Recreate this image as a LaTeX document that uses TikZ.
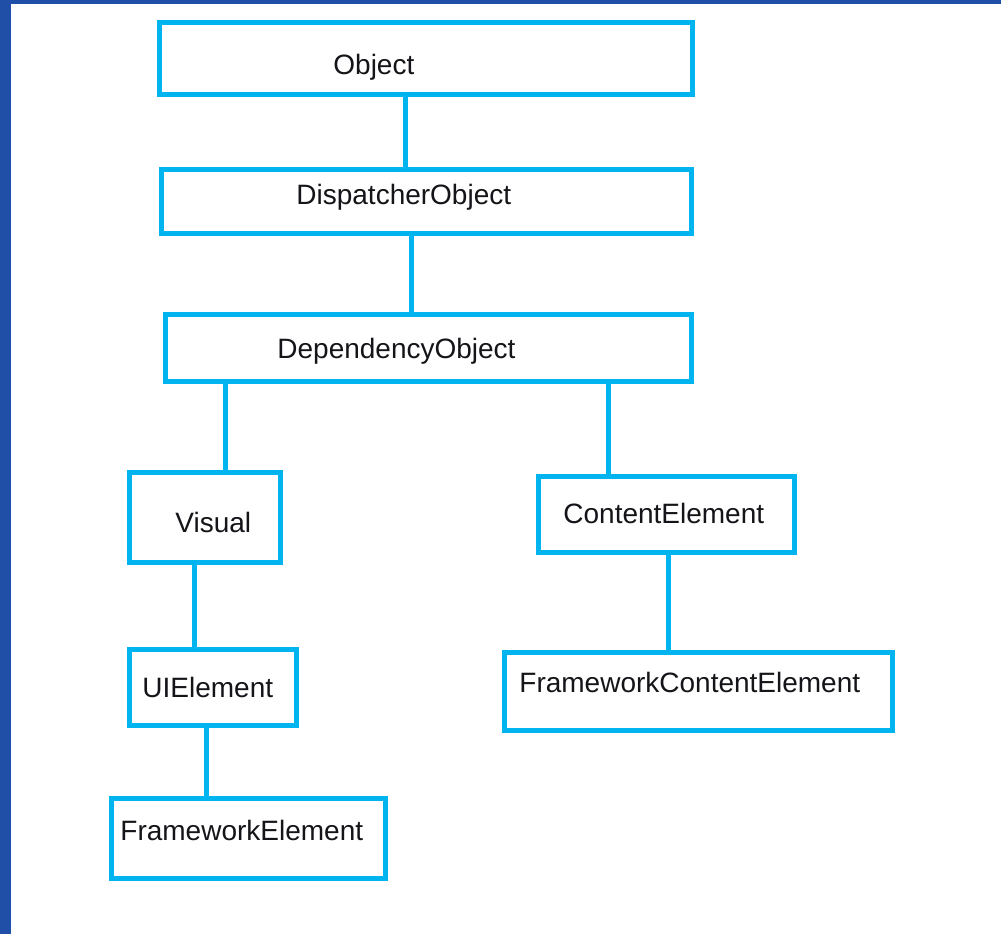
\documentclass[tikz,border=0pt]{standalone}
\usepackage{fontspec}
\setmainfont{Liberation Sans}
\definecolor{framebl}{RGB}{31,79,166}
\definecolor{boxc}{RGB}{0,180,240}
\definecolor{txtc}{RGB}{20,20,25}
\begin{document}
\begin{tikzpicture}[x=0.5pt,y=-0.5pt,
  box/.style={draw=boxc, line width=2.5pt, inner sep=0pt, anchor=north west},
  lbl/.style={inner sep=0pt, anchor=base west, text=txtc, font=\fontsize{14pt}{16pt}\selectfont},
  link/.style={draw=boxc, line width=2.5pt}]
\useasboundingbox (0,0) rectangle (1001,934);
\fill[white] (0,0) rectangle (1001,934);
\fill[framebl] (0,0) rectangle (11,934);
\fill[framebl] (0,0) rectangle (1001,4);
% boxes (outer corner, path size = outer - line width)
\node[box, minimum width=266.5pt, minimum height=36pt] (obj) at (157,20) {};
\node[box, minimum width=265pt, minimum height=32pt] (disp) at (159,167) {};
\node[box, minimum width=263pt, minimum height=33.5pt] (dep) at (163,312) {};
\node[box, minimum width=75.5pt, minimum height=45pt] (vis) at (127,470) {};
\node[box, minimum width=128pt, minimum height=38pt] (ce) at (536,474) {};
\node[box, minimum width=83.5pt, minimum height=38pt] (uie) at (127,647) {};
\node[box, minimum width=137pt, minimum height=40pt] (fe) at (109,796) {};
\node[box, minimum width=194pt, minimum height=39pt] (fce) at (502,650) {};
% labels
\node[lbl] (objT) at (333,74) {Object};
\node[lbl] (dispT) at (296,204) {DispatcherObject};
\node[lbl] (depT) at (277,358) {DependencyObject};
\node[lbl] (visT) at (175,532) {Visual};
\node[lbl] (ceT) at (563,523) {ContentElement};
\node[lbl] (uieT) at (142,697) {UIElement};
\node[lbl] (feT) at (120,840) {FrameworkElement};
\node[lbl] (fceT) at (519,692) {FrameworkContentElement};
% connectors
\draw[link] (obj.south -| 405,0) -- (disp.north -| 405,0);
\draw[link] (disp.south -| 411,0) -- (dep.north -| 411,0);
\draw[link] (dep.south -| 225,0) -- (vis.north -| 225,0);
\draw[link] (dep.south -| 608,0) -- (ce.north -| 608,0);
\draw[link] (vis.south -| 194,0) -- (uie.north -| 194,0);
\draw[link] (ce.south -| 668,0) -- (fce.north -| 668,0);
\draw[link] (uie.south -| 206,0) -- (fe.north -| 206,0);
\end{tikzpicture}
\end{document}
